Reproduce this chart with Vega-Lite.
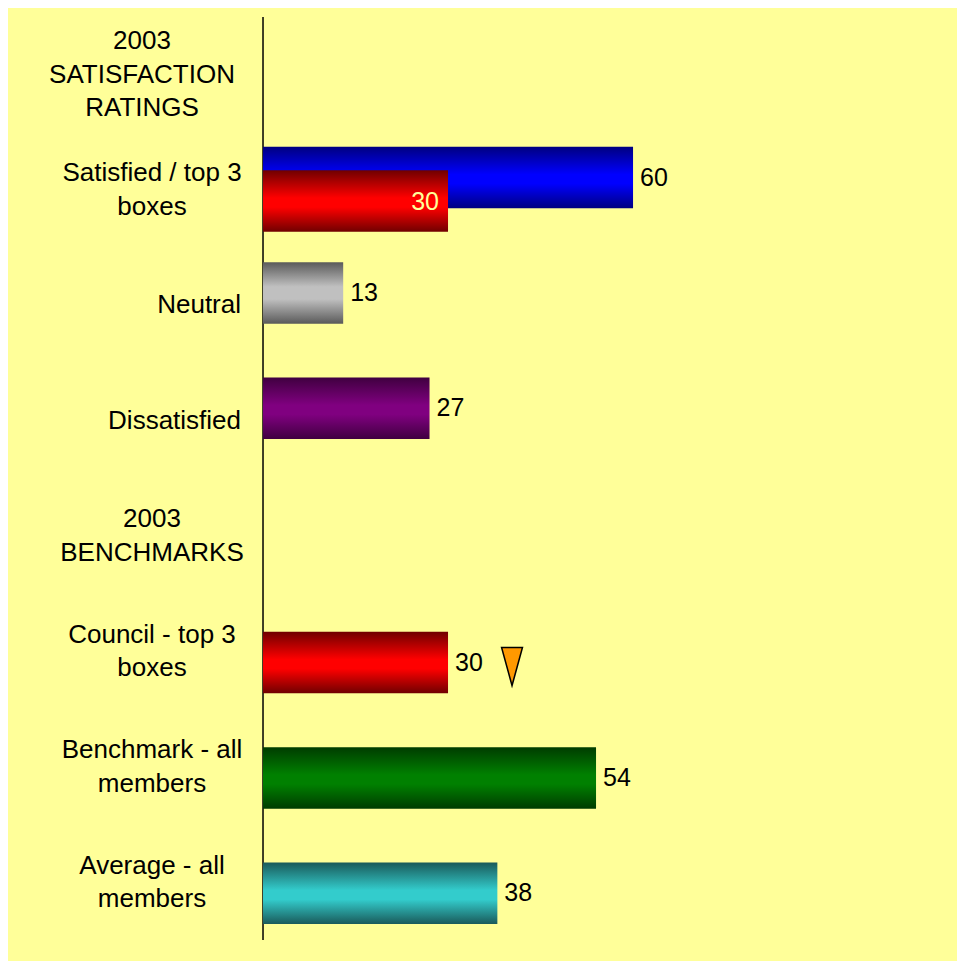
{
  "$schema": "https://vega.github.io/schema/vega-lite/v6.json",
  "width": 949,
  "height": 953,
  "autosize": {"type": "none"},
  "padding": {"left": 8, "top": 8, "right": 0, "bottom": 0},
  "background": "#FFFFFF",
  "view": {"fill": "#FFFF99", "stroke": null},
  "config": {"text": {"font": "Liberation Sans"}},
  "datasets": {
    "rows": [
      {"row": "2003\nSATISFACTION\nRATINGS"},
      {"row": "Satisfied / top 3\nboxes"},
      {"row": "Neutral"},
      {"row": "Dissatisfied"},
      {"row": "2003\nBENCHMARKS"},
      {"row": "Council - top 3\nboxes"},
      {"row": "Benchmark - all\nmembers"},
      {"row": "Average - all\nmembers"}
    ],
    "bars": [
      {"row": "Satisfied / top 3\nboxes", "series": "A", "measure": "Satisfied", "value": 60},
      {"row": "Satisfied / top 3\nboxes", "series": "B", "measure": "Council", "value": 30},
      {"row": "Neutral", "series": "A", "measure": "Neutral", "value": 13},
      {"row": "Dissatisfied", "series": "A", "measure": "Dissatisfied", "value": 27},
      {"row": "Council - top 3\nboxes", "series": "B", "measure": "Council", "value": 30, "trend": "down"},
      {"row": "Benchmark - all\nmembers", "series": "B", "measure": "Benchmark", "value": 54},
      {"row": "Average - all\nmembers", "series": "B", "measure": "Average", "value": 38}
    ]
  },
  "encoding": {
    "y": {
      "field": "row",
      "type": "nominal",
      "axis": null,
      "sort": null,
      "scale": {
        "domain": [
          "2003\nSATISFACTION\nRATINGS",
          "Satisfied / top 3\nboxes",
          "Neutral",
          "Dissatisfied",
          "2003\nBENCHMARKS",
          "Council - top 3\nboxes",
          "Benchmark - all\nmembers",
          "Average - all\nmembers"
        ],
        "paddingInner": 0,
        "paddingOuter": 0.13,
        "align": 0.3
      }
    }
  },
  "layer": [
    {
      "data": {"name": "rows"},
      "transform": [{"filter": "datum.row == '2003\\nSATISFACTION\\nRATINGS'"}],
      "mark": {"type": "rule", "strokeWidth": 1.5, "color": "#000000"},
      "encoding": {
        "x": {"datum": 0, "type": "quantitative", "axis": null, "scale": {"domain": [-41.35, 112.53], "nice": false, "zero": false}},
        "y": {"datum": "2003\nSATISFACTION\nRATINGS", "type": "nominal", "bandPosition": 0},
        "y2": {"datum": "Average - all\nmembers", "bandPosition": 1}
      }
    },
    {
      "data": {"name": "bars"},
      "transform": [{"filter": "datum.measure == 'Satisfied'"}],
      "mark": {"type": "bar", "height": 61.5, "yOffset": -12.5,
        "color": {"gradient": "linear", "x1": 0, "y1": 0, "x2": 0, "y2": 1,
          "stops": [{"offset": 0, "color": "#000080"}, {"offset": 0.45, "color": "#0000FF"}, {"offset": 0.6, "color": "#0000FF"}, {"offset": 1, "color": "#000080"}]}},
      "encoding": {"x": {"field": "value", "type": "quantitative"}, "x2": {"datum": 0}}
    },
    {
      "data": {"name": "bars"},
      "transform": [{"filter": "datum.measure == 'Neutral'"}],
      "mark": {"type": "bar", "height": 61.5, "yOffset": -12.5,
        "color": {"gradient": "linear", "x1": 0, "y1": 0, "x2": 0, "y2": 1,
          "stops": [{"offset": 0, "color": "#5A5A5A"}, {"offset": 0.4, "color": "#C0C0C0"}, {"offset": 0.6, "color": "#C0C0C0"}, {"offset": 1, "color": "#5A5A5A"}]}},
      "encoding": {"x": {"field": "value", "type": "quantitative"}, "x2": {"datum": 0}}
    },
    {
      "data": {"name": "bars"},
      "transform": [{"filter": "datum.measure == 'Dissatisfied'"}],
      "mark": {"type": "bar", "height": 61.5, "yOffset": -12.5,
        "color": {"gradient": "linear", "x1": 0, "y1": 0, "x2": 0, "y2": 1,
          "stops": [{"offset": 0, "color": "#400040"}, {"offset": 0.45, "color": "#800080"}, {"offset": 0.6, "color": "#800080"}, {"offset": 1, "color": "#400040"}]}},
      "encoding": {"x": {"field": "value", "type": "quantitative"}, "x2": {"datum": 0}}
    },
    {
      "data": {"name": "bars"},
      "transform": [{"filter": "datum.measure == 'Council'"}],
      "mark": {"type": "bar", "height": 61.5, "yOffset": 11,
        "color": {"gradient": "linear", "x1": 0, "y1": 0, "x2": 0, "y2": 1,
          "stops": [{"offset": 0, "color": "#700000"}, {"offset": 0.45, "color": "#FF0000"}, {"offset": 0.6, "color": "#FF0000"}, {"offset": 1, "color": "#700000"}]}},
      "encoding": {"x": {"field": "value", "type": "quantitative"}, "x2": {"datum": 0}}
    },
    {
      "data": {"name": "bars"},
      "transform": [{"filter": "datum.measure == 'Benchmark'"}],
      "mark": {"type": "bar", "height": 61.5, "yOffset": 11,
        "color": {"gradient": "linear", "x1": 0, "y1": 0, "x2": 0, "y2": 1,
          "stops": [{"offset": 0, "color": "#003C00"}, {"offset": 0.45, "color": "#008000"}, {"offset": 0.6, "color": "#008000"}, {"offset": 1, "color": "#003C00"}]}},
      "encoding": {"x": {"field": "value", "type": "quantitative"}, "x2": {"datum": 0}}
    },
    {
      "data": {"name": "bars"},
      "transform": [{"filter": "datum.measure == 'Average'"}],
      "mark": {"type": "bar", "height": 61.5, "yOffset": 11,
        "color": {"gradient": "linear", "x1": 0, "y1": 0, "x2": 0, "y2": 1,
          "stops": [{"offset": 0, "color": "#1A5A5A"}, {"offset": 0.45, "color": "#33CCCC"}, {"offset": 0.6, "color": "#33CCCC"}, {"offset": 1, "color": "#1A5A5A"}]}},
      "encoding": {"x": {"field": "value", "type": "quantitative"}, "x2": {"datum": 0}}
    },
    {
      "data": {"name": "bars"},
      "transform": [{"filter": "datum.series == 'A'"}],
      "mark": {"type": "text", "align": "left", "baseline": "middle", "dx": 7, "yOffset": -12.5, "fontSize": 25, "color": "#000000"},
      "encoding": {"x": {"field": "value", "type": "quantitative"}, "text": {"field": "value", "type": "quantitative"}}
    },
    {
      "data": {"name": "bars"},
      "transform": [{"filter": "datum.series == 'B' && indexof(datum.row, 'Satisfied') < 0"}],
      "mark": {"type": "text", "align": "left", "baseline": "middle", "dx": 7, "yOffset": 11, "fontSize": 25, "color": "#000000"},
      "encoding": {"x": {"field": "value", "type": "quantitative"}, "text": {"field": "value", "type": "quantitative"}}
    },
    {
      "data": {"name": "bars"},
      "transform": [{"filter": "datum.series == 'B' && indexof(datum.row, 'Satisfied') >= 0"}],
      "mark": {"type": "text", "align": "right", "baseline": "middle", "dx": -9, "yOffset": 12, "fontSize": 25, "color": "#FFFF99"},
      "encoding": {"x": {"field": "value", "type": "quantitative"}, "text": {"field": "value", "type": "quantitative"}}
    },
    {
      "data": {"name": "bars"},
      "transform": [{"filter": "datum.trend == 'down'"}],
      "mark": {"type": "point", "shape": "M-0.55,-1L0.55,-1L0,1Z", "size": 1444, "filled": true, "fill": "#FF9900", "stroke": "#000000", "strokeWidth": 1.5, "opacity": 1, "xOffset": 64, "yOffset": 15},
      "encoding": {"x": {"field": "value", "type": "quantitative"}}
    },
    {
      "data": {"name": "rows"},
      "transform": [{"filter": "length(split(datum.row, '\\n')) == 3"}],
      "mark": {"type": "text", "align": "center", "baseline": "middle", "dx": -121, "dy": -33.5, "fontSize": 26, "lineHeight": 33.5, "lineBreak": "\n", "color": "#000000"},
      "encoding": {"x": {"datum": 0, "type": "quantitative"}, "text": {"field": "row", "type": "nominal"}}
    },
    {
      "data": {"name": "rows"},
      "transform": [{"filter": "length(split(datum.row, '\\n')) == 2"}],
      "mark": {"type": "text", "align": "center", "baseline": "middle", "dx": -111, "dy": -16.75, "fontSize": 26, "lineHeight": 33.5, "lineBreak": "\n", "color": "#000000"},
      "encoding": {"x": {"datum": 0, "type": "quantitative"}, "text": {"field": "row", "type": "nominal"}}
    },
    {
      "data": {"name": "rows"},
      "transform": [{"filter": "indexof(datum.row, '\\n') < 0"}],
      "mark": {"type": "text", "align": "right", "baseline": "middle", "dx": -22, "fontSize": 26, "lineHeight": 33.5, "color": "#000000"},
      "encoding": {"x": {"datum": 0, "type": "quantitative"}, "text": {"field": "row", "type": "nominal"}}
    }
  ]
}
